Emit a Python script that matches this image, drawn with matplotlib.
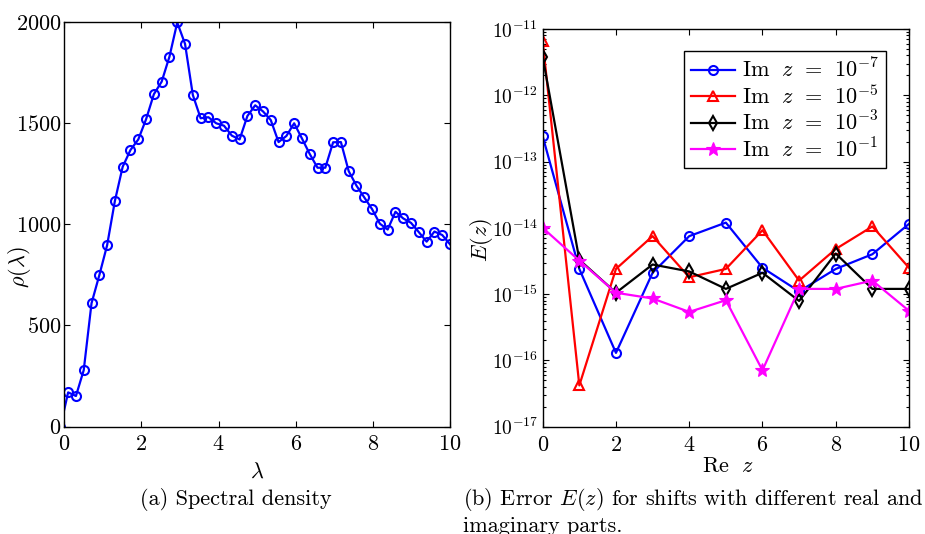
import matplotlib
matplotlib.use("Agg")
import matplotlib.pyplot as plt
import numpy as np
from matplotlib.ticker import LogLocator, NullFormatter

plt.rcParams["font.family"] = "serif"
plt.rcParams["font.serif"] = ["cmr10", "DejaVu Serif"]
plt.rcParams["mathtext.fontset"] = "cm"
plt.rcParams["axes.formatter.use_mathtext"] = True

# ---------- data: (a) spectral density ----------
# grid of bin centres; the first point sits just left of the axis and is clipped
lam = np.concatenate([[-0.1], np.linspace(0.1, 10, 50)])
rho = [0, 169, 151, 279, 610, 749, 897, 1117, 1286, 1369, 1421,
       1521, 1645, 1707, 1831, 2000, 1894, 1641, 1526, 1531, 1501,
       1489, 1440, 1421, 1537, 1590, 1560, 1517, 1408, 1438, 1501,
       1426, 1349, 1281, 1281, 1407, 1408, 1264, 1192, 1134, 1076,
       1004, 975, 1063, 1030, 1008, 962, 915, 965, 948, 902]

# ---------- data: (b) error for shifts ----------
re_z = [0, 1, 2, 3, 4, 5, 6, 7, 8, 9, 10]
err_im7 = [2.4e-13, 2.4e-15, 1.3e-16, 2.1e-15, 7.5e-15, 1.2e-14,
           2.5e-15, 1.1e-15, 2.4e-15, 4.0e-15, 1.15e-14]
err_im5 = [6.5e-12, 4.2e-17, 2.4e-15, 7.5e-15, 1.8e-15, 2.4e-15,
           9.2e-15, 1.6e-15, 4.8e-15, 1.05e-14, 2.5e-15]
err_im3 = [3.8e-12, 3.3e-15, 1.05e-15, 2.8e-15, 2.2e-15, 1.2e-15,
           2.1e-15, 7.9e-16, 4.1e-15, 1.2e-15, 1.2e-15]
err_im1 = [1.0e-14, 3.2e-15, 1.05e-15, 8.6e-16, 5.4e-16, 8.1e-16,
           7.1e-17, 1.2e-15, 1.2e-15, 1.6e-15, 5.6e-16]
im_exps = ["-7", "-5", "-3", "-1"]
legend_labels = [r"$\mathrm{Im}\ \,\,z\;\,=\;\,10^{%s}\;\;$" % e for e in im_exps]

FS = 16
MAGENTA = "#ff00ff"

fig = plt.figure(figsize=(9.25, 5.34), dpi=100)

def style(ax, ypad, ysize):
    ax.tick_params(which="both", direction="in", top=True, right=True, labelsize=FS,
                   width=0.8)
    ax.tick_params(axis="x", pad=6)
    ax.tick_params(axis="y", pad=ypad, labelsize=ysize)
    ax.tick_params(which="major", length=4.5)
    ax.tick_params(which="minor", length=2.5)
    for s in ax.spines.values():
        s.set_linewidth(1.0)

# ---------- (a) ----------
ax1 = fig.add_axes([0.0695, 0.2013, 0.417, 0.7566])
ax1.plot(lam, rho, "-o", color="b", lw=1.6, ms=6.5, mfc="none", mew=1.5)
ax1.set_xlim(0, 10); ax1.set_ylim(0, 2000)
ax1.set_xticks([0, 2, 4, 6, 8, 10]); ax1.set_yticks([0, 500, 1000, 1500, 2000])
style(ax1, 2, FS)
ax1.set_xlabel(r"$\lambda$", fontsize=FS)
ax1.set_ylabel(r"$\rho(\lambda)$", fontsize=FS)
ax1.xaxis.set_label_coords(0.499, -0.088)
ax1.yaxis.set_label_coords(-0.082, 0.395)

# ---------- (b) ----------
ax2 = fig.add_axes([0.5867, 0.2009, 0.396, 0.7448])
ax2.semilogy(re_z, err_im7, "-o", color="b", lw=1.6, ms=6.5, mfc="none", mew=1.5,
             label=legend_labels[0])
ax2.semilogy(re_z, err_im5, "-^", color="r", lw=1.6, ms=7, mfc="none", mew=1.5,
             label=legend_labels[1])
ax2.semilogy(re_z, err_im3, "-d", color="k", lw=1.6, ms=7, mfc="none", mew=1.5,
             label=legend_labels[2])
ax2.semilogy(re_z, err_im1, "-*", color=MAGENTA, lw=1.6, ms=10, mfc=MAGENTA, mew=0.8,
             label=legend_labels[3])
ax2.set_xlim(0, 10); ax2.set_ylim(1e-17, 1e-11)
ax2.set_xticks([0, 2, 4, 6, 8, 10])
ax2.set_yticks([1e-17, 1e-16, 1e-15, 1e-14, 1e-13, 1e-12, 1e-11])
ax2.yaxis.set_minor_locator(LogLocator(base=10, subs=np.arange(2, 10), numticks=20))
ax2.yaxis.set_minor_formatter(NullFormatter())
style(ax2, 3.5, 14)
ax2.set_xlabel(r"$\mathrm{Re}\ \ z$", fontsize=FS)
ax2.set_ylabel(r"$E(z)$", fontsize=FS)
ax2.xaxis.set_label_coords(0.506, -0.075)
ax2.yaxis.set_label_coords(-0.129, 0.47)
leg = ax2.legend(loc="upper right", bbox_to_anchor=(0.937, 0.945), borderaxespad=0,
                 fontsize=FS, fancybox=False, edgecolor="k", framealpha=1,
                 handlelength=1.98, handletextpad=0.32, labelspacing=0.12,
                 borderpad=0.3)
leg.get_frame().set_linewidth(1.0)

# ---------- captions ----------
fig.text(0.255, 0.0543, "(a) Spectral density", fontsize=FS, ha="center",
         va="baseline")
fig.text(0.501, 0.0543, "(b) Error $E(z)$ for shifts with different real and",
         fontsize=FS, ha="left", va="baseline")
fig.text(0.501, 0.0043, "imaginary parts.", fontsize=FS, ha="left", va="baseline")

fig.savefig("out.png", dpi=100)
